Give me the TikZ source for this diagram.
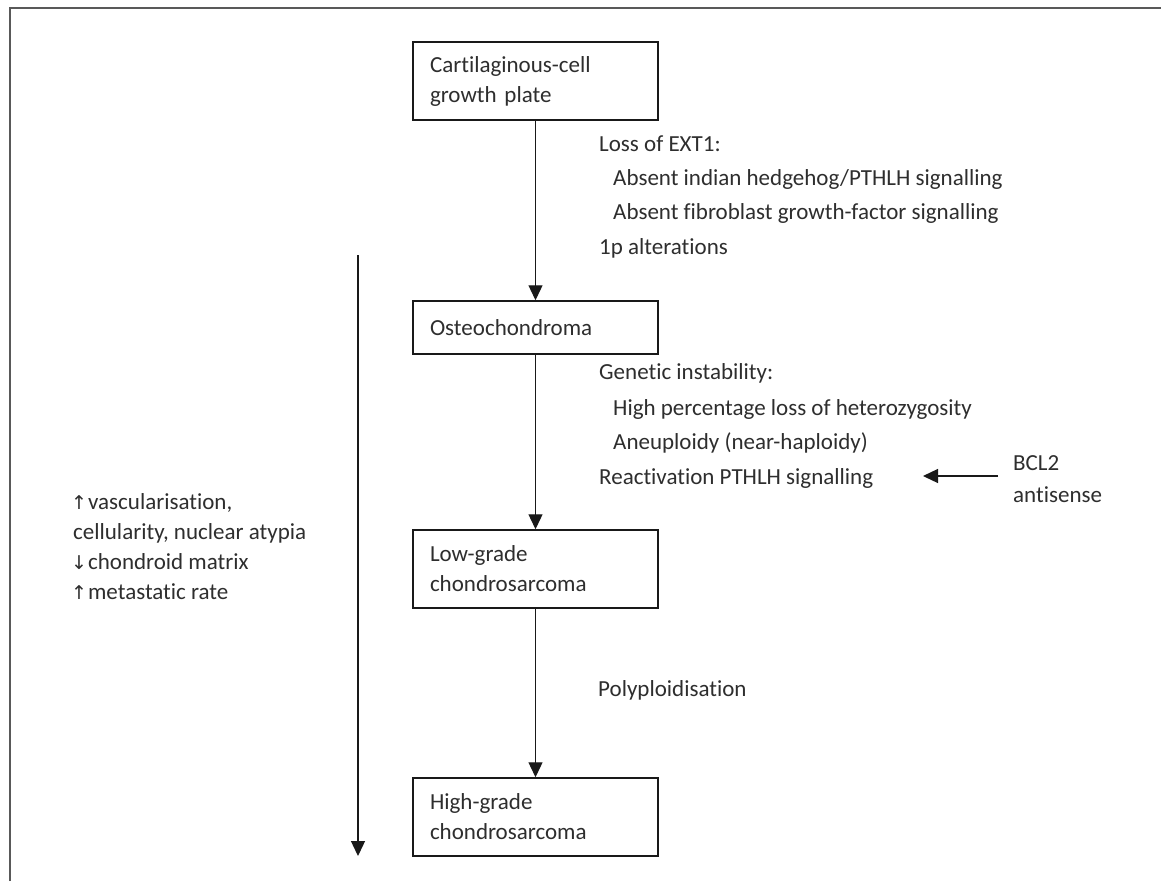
\documentclass[tikz,border=0pt]{standalone}
\usepackage{fontspec}
\setmainfont{Carlito}[Ligatures=NoCommon]
\newfontfamily\arrfont{DejaVu Sans}
\usetikzlibrary{arrows.meta}
\begin{document}
\begin{tikzpicture}[x=1pt,y=-1pt,
  box/.style={draw=black!90, line width=1.5pt, align=left, text width=211pt,
    inner xsep=17pt, inner ysep=0pt, text=black!82,
    font=\fontsize{23pt}{30pt}\selectfont},
  lbl/.style={anchor=base west, inner sep=0pt, text=black!82,
    font=\fontsize{23pt}{30pt}\selectfont},
  arr/.style={line width=1.3pt, draw=black!90, -{Triangle[width=14pt,length=15pt]}},
  frame/.style={draw=black!65, line width=2.2pt}]
\useasboundingbox (0,0) rectangle (1161,881);
\fill[white] (0,0) rectangle (1161,881);
\draw[frame] (10,881) -- (10,8) -- (1161,8);

% boxes
\node[box, minimum height=78pt] (b1) at (535.5,81) {Cartilaginous-cell\\growth plate};
\node[box, minimum height=53pt] (b2) at (535.5,327.5) {Osteochondroma};
\node[box, minimum height=78pt] (b3) at (535.5,569) {Low-grade\\chondrosarcoma};
\node[box, minimum height=78pt] (b4) at (535.5,817) {High-grade\\chondrosarcoma};

\draw[arr] (b1) -- (b2);
\draw[arr] (b2) -- (b3);
\draw[arr] (b3) -- (b4);

% first annotation block
\node[lbl] (l1) at (599,151) {Loss of EXT1:};
\node[lbl] (l2) at (613,185) {Absent indian hedgehog/PTHLH signalling};
\node[lbl] (l3) at (613,219) {Absent fibroblast growth-factor signalling};
\node[lbl] (l4) at (599,254) {1p alterations};

% second annotation block
\node[lbl] (g1) at (599,379) {Genetic instability:};
\node[lbl] (g2) at (613,415) {High percentage loss of heterozygosity};
\node[lbl] (g3) at (613,449) {Aneuploidy (near-haploidy)};
\node[lbl] (g4) at (599,484) {Reactivation PTHLH signalling};

% BCL2
\node[lbl] (c1) at (1013,470) {BCL2};
\node[lbl] (c2) at (1013,502) {antisense};
\coordinate (bs) at (998,476);
\coordinate (be) at (923,476);
\draw[arr] (bs) -- (be);

% polyploidisation
\node[lbl] (p1) at (598,696) {Polyploidisation};

% left block
\node[lbl] (v1) at (71,509) {{\arrfont\fontsize{19pt}{19pt}\selectfont ↑}\kern1pt vascularisation,};
\node[lbl] (v2) at (73,539) {cellularity, nuclear atypia};
\node[lbl] (v3) at (71,569) {{\arrfont\fontsize{19pt}{19pt}\selectfont ↓}\kern1pt chondroid matrix};
\node[lbl] (v4) at (71,599) {{\arrfont\fontsize{19pt}{19pt}\selectfont ↑}\kern1pt metastatic rate};

% long left arrow
\coordinate (ls) at (358,255);
\coordinate (le) at (358,856);
\draw[arr] (ls) -- (le);
\end{tikzpicture}
\end{document}
